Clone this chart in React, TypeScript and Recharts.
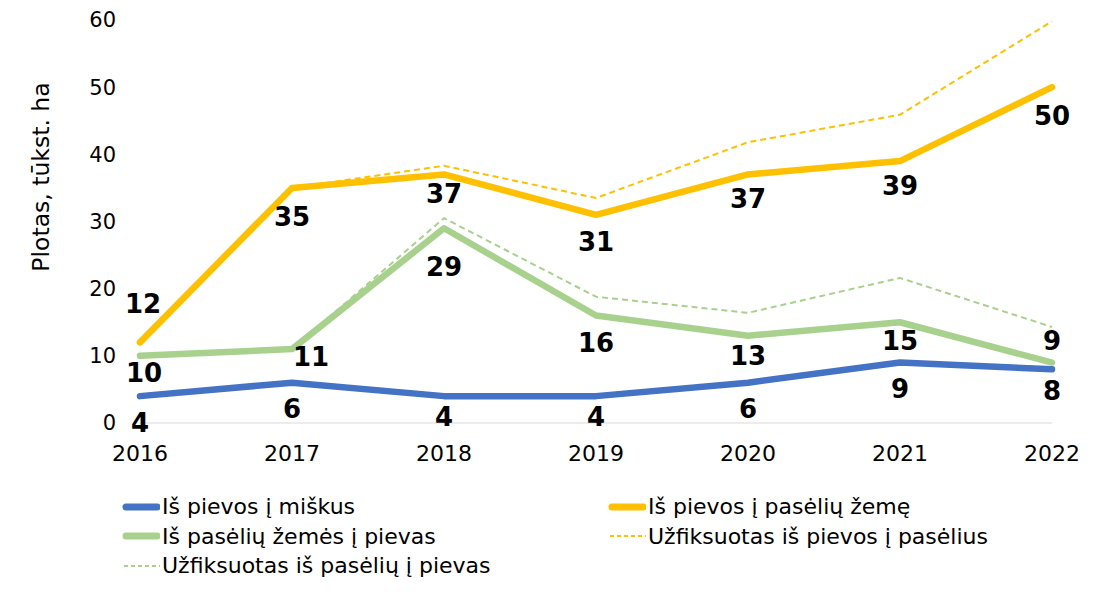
import React from "react"
import { LineChart, Line, XAxis, YAxis, LabelList } from "recharts"

const years = ["2016", "2017", "2018", "2019", "2020", "2021", "2022"]
const toForest = [4, 6, 4, 4, 6, 9, 8]
const toCropland = [12, 35, 37, 31, 37, 39, 50]
const toGrassland = [10, 11, 29, 16, 13, 15, 9]
const recordedToCropland = [12, 35, 38.3, 33.5, 41.8, 45.9, 59.8]
const recordedToGrassland = [10, 11, 30.5, 18.8, 16.4, 21.6, 14.3]
const yTicks = [0, 10, 20, 30, 40, 50, 60]

const FONT = "'DejaVu Sans', Verdana, sans-serif"

const data = years.map((year, i) => ({
  year,
  forest: toForest[i],
  cropland: toCropland[i],
  grassland: toGrassland[i],
  recCropland: recordedToCropland[i],
  recGrassland: recordedToGrassland[i],
}))

// label nudges [dx, dy] from each point, per series
const forestLabelPos = [[0, 27], [0, 26], [0, 21], [0, 21], [0, 26], [0, 26], [0, 22]]
const croplandLabelPos = [[3, -38], [0, 29], [0, 20], [0, 27], [0, 25], [0, 25], [0, 29]]
const grasslandLabelPos = [[4, 17], [19, 8], [0, 39], [0, 27], [0, 20], [0, 19], [0, -22]]

const series = [
  { key: "forest", name: "Iš pievos į miškus", color: "#4472C4", dashed: false },
  { key: "cropland", name: "Iš pievos į pasėlių žemę", color: "#FFC000", dashed: false },
  { key: "grassland", name: "Iš pasėlių žemės į pievas", color: "#A9D18E", dashed: false },
  { key: "recCropland", name: "Užfiksuotas iš pievos į pasėlius", color: "#FFC000", dashed: true },
  { key: "recGrassland", name: "Užfiksuotas iš pasėlių į pievas", color: "#A9D18E", dashed: true },
]

function makeLabel(pos: number[][]) {
  return (props: any) => {
    const { x, y, value, index } = props
    const [dx, dy] = pos[index] || [0, 26]
    return (
      <text
        x={Number(x) + dx}
        y={Number(y) + dy}
        textAnchor="middle"
        dominantBaseline="central"
        fontFamily={FONT}
        fontWeight="bold"
        fontSize={26}
        fill="#000"
      >
        {value}
      </text>
    )
  }
}

function ChartLegend() {
  return (
    <div
      style={{
        position: "absolute",
        left: 122,
        top: 492,
        display: "grid",
        gridTemplateColumns: "486px auto",
        gridAutoRows: "29.5px",
        fontFamily: FONT,
        fontSize: 22,
        color: "#000",
      }}
    >
      {series.map((s) => (
        <div key={s.key} style={{ display: "flex", alignItems: "center", whiteSpace: "nowrap" }}>
          <svg width={38} height={10} style={{ marginRight: 2 }}>
            {s.dashed ? (
              <line x1={2} y1={5} x2={38} y2={5} stroke={s.color} strokeWidth={2} strokeDasharray="4 3" />
            ) : (
              <line x1={4} y1={5} x2={35} y2={5} stroke={s.color} strokeWidth={7} strokeLinecap="round" />
            )}
          </svg>
          <span>{s.name}</span>
        </div>
      ))}
    </div>
  )
}

export default function App() {
  return (
    <div style={{ position: "absolute", left: 0, top: 0, width: 1094, height: 593, background: "#fff" }}>
      <LineChart width={1094} height={593} data={data} margin={{ top: 20, right: 42, left: 0, bottom: 120 }}>
        <XAxis
          dataKey="year"
          height={50}
          axisLine={{ stroke: "#D9D9D9", strokeWidth: 1 }}
          tickLine={false}
          tickSize={0}
          tickMargin={22}
          tick={{ fontSize: 22, fill: "#000", fontFamily: FONT }}
          padding={{ left: 0, right: 0 }}
        />
        <YAxis
          width={140}
          domain={[0, 60]}
          ticks={yTicks}
          axisLine={false}
          tickLine={false}
          tickSize={0}
          tickMargin={24}
          tick={{ fontSize: 21, fill: "#000", fontFamily: FONT }}
          label={() => (
            <text
              x={41}
              y={177}
              transform="rotate(-90 41 177)"
              textAnchor="middle"
              dominantBaseline="central"
              fontFamily={FONT}
              fontSize={23.5}
              fill="#000"
            >
              Plotas, tūkst. ha
            </text>
          )}
        />
        <Line
          dataKey="recGrassland"
          stroke="#A9D18E"
          strokeWidth={2}
          strokeDasharray="6 4"
          dot={false}
          activeDot={false}
          isAnimationActive={false}
        />
        <Line
          dataKey="recCropland"
          stroke="#FFC000"
          strokeWidth={2}
          strokeDasharray="6 4"
          dot={false}
          activeDot={false}
          isAnimationActive={false}
        />
        <Line
          dataKey="forest"
          stroke="#4472C4"
          strokeWidth={6.5}
          strokeLinecap="round"
          strokeLinejoin="round"
          dot={false}
          activeDot={false}
          isAnimationActive={false}
        >
          <LabelList dataKey="forest" content={makeLabel(forestLabelPos)} />
        </Line>
        <Line
          dataKey="grassland"
          stroke="#A9D18E"
          strokeWidth={6.5}
          strokeLinecap="round"
          strokeLinejoin="round"
          dot={false}
          activeDot={false}
          isAnimationActive={false}
        >
          <LabelList dataKey="grassland" content={makeLabel(grasslandLabelPos)} />
        </Line>
        <Line
          dataKey="cropland"
          stroke="#FFC000"
          strokeWidth={6.5}
          strokeLinecap="round"
          strokeLinejoin="round"
          dot={false}
          activeDot={false}
          isAnimationActive={false}
        >
          <LabelList dataKey="cropland" content={makeLabel(croplandLabelPos)} />
        </Line>
      </LineChart>
      <ChartLegend />
    </div>
  )
}
